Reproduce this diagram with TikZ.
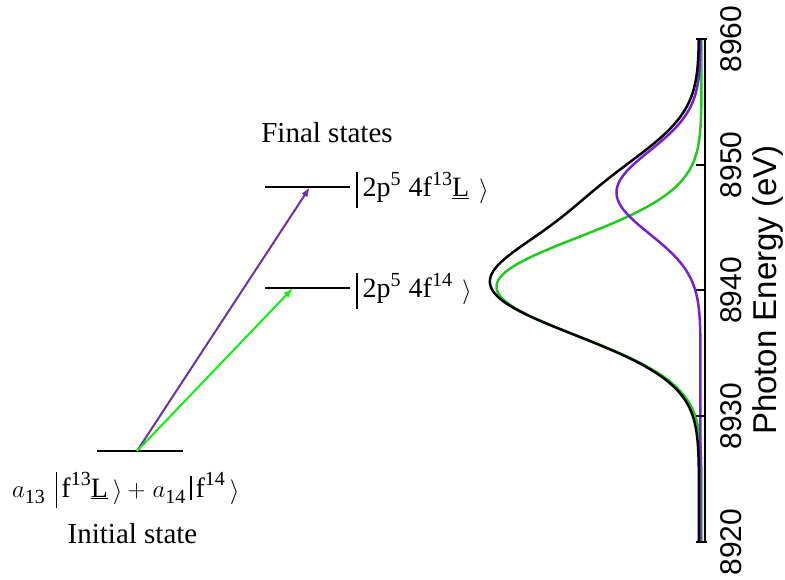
\documentclass[tikz,border=0pt]{standalone}
\usepackage{fontspec}
\setmainfont{Liberation Serif}
\setsansfont{Liberation Sans}
\usetikzlibrary{arrows.meta}
\definecolor{arrpurple}{HTML}{7030A0}
\definecolor{arrgreen}{HTML}{11EE11}
\definecolor{curvepurple}{HTML}{7A1FD6}
\definecolor{curvegreen}{HTML}{1FCB1F}
\newcommand\kSup[1]{\raisebox{0.40em}{\fontsize{20pt}{23pt}\selectfont #1}}
\newcommand\kSub[1]{\raisebox{-0.22em}{\fontsize{20pt}{23pt}\selectfont #1}}
\newcommand\kBar{\rule[-11pt]{1.5pt}{36pt}}
\newcommand\kAng{\raisebox{-1pt}{\fontsize{27pt}{30pt}\selectfont$\rangle$}}
\newcommand\kA{{\fontsize{31pt}{34pt}\selectfont$a$}}
\newcommand\kPlus{{\fontsize{32pt}{34pt}\selectfont$+$}}
\begin{document}
\begin{tikzpicture}[x=1pt,y=-1pt,
  levelline/.style={line width=2.5pt,black},
  trans/.style={line width=2pt,-{Latex[length=10pt,width=7pt]}},
  serifbig/.style={font=\fontsize{29pt}{34pt}\selectfont,inner sep=0pt},
  ketlabel/.style={font=\fontsize{28pt}{32pt}\selectfont,inner sep=0pt},
  ticklab/.style={font=\sffamily\fontsize{30pt}{36pt}\selectfont,rotate=90,inner sep=0pt},
  curve/.style={line width=2.5pt,line join=round},
  declare function={
    gg(\t)=exp(max(-9,0-((\t-0.3)*(\t-0.3))/30.42));
    pp(\t)=exp(max(-9,0-((\t-7.8)*(\t-7.8))/21.78));
    bb(\t)=exp(max(-9,0-((\t-7.9)*(\t-7.9))/24.5));
  }
]
\useasboundingbox (0,0) rectangle (785,580);

% ---------- level diagram ----------
\coordinate (iniL) at (97,451);
\coordinate (iniR) at (183,451);
\coordinate (src) at (137,451);
\coordinate (upL) at (265,187);
\coordinate (upR) at (350,187);
\coordinate (loL) at (265,288);
\coordinate (loR) at (350,288);
\coordinate (tipU) at (310,187);
\coordinate (tipL) at (293,288);

\draw[levelline] (iniL) -- (iniR);
\draw[levelline] (upL) -- (upR);
\draw[levelline] (loL) -- (loR);

\draw[trans,arrpurple] (src) -- (tipU);
\draw[trans,arrgreen] (src) -- (tipL);

\node[serifbig] (final) at (327,133) {Final states};
\node[serifbig,anchor=base] (initial) at (132.5,543) {Initial state};

\node[ketlabel,anchor=base west] (ketU) at (356,197)
  {\kBar\hspace{5pt}2p\kSup{5}\hspace{8pt}4f\kSup{13}\underline{L}\hspace{10pt}\kAng};
\node[ketlabel,anchor=base west] (ketL) at (356,298)
  {\kBar\hspace{5pt}2p\kSup{5}\hspace{8pt}4f\kSup{14}\hspace{10pt}\kAng};
\node[ketlabel,anchor=base west] (ketI) at (12,497)
  {\kA\kSub{13}\hspace{11pt}\kBar\hspace{4pt}f\kSup{13}\underline{L}\hspace{5pt}\kAng\hspace{5pt}\kPlus\hspace{7pt}\kA\kSub{14}\hspace{5pt}\rule[-3pt]{1.3pt}{24pt}\hspace{4pt}f\kSup{14}\hspace{5pt}\kAng};

% ---------- spectrum ----------
\draw[curve,curvegreen] plot[domain=-20:20,samples=201,variable=\t]
  ({701.5-205*gg(\t)},{290.5-12.575*\t});
\draw[curve,curvepurple] plot[domain=-20:20,samples=201,variable=\t]
  ({700.5-84*pp(\t)},{290.5-12.575*\t});
\draw[curve,black] plot[domain=-20:20,samples=201,variable=\t]
  ({699-201*gg(\t)-76*bb(\t)},{290.5-12.575*\t});

% axis
\coordinate (axTop) at (704.5,39);
\coordinate (axBot) at (704.5,542);
\draw[line width=2pt] (axTop) -- (axBot);
\draw[line width=2pt] (696,39) -- (707,39);
\draw[line width=2pt] (696,542) -- (707,542);
\foreach \v/\yy in {8920/542,8930/416.25,8940/290.5,8950/164.75,8960/39}{
  \draw[line width=2pt] (696,\yy) -- (704.5,\yy);
  \node[ticklab] (tick\v) at (731,\yy) {\v};
}
\node[ticklab,font=\sffamily\fontsize{33pt}{38pt}\selectfont] (axlabel) at (768,290) {Photon Energy (eV)};
\end{tikzpicture}
\end{document}
